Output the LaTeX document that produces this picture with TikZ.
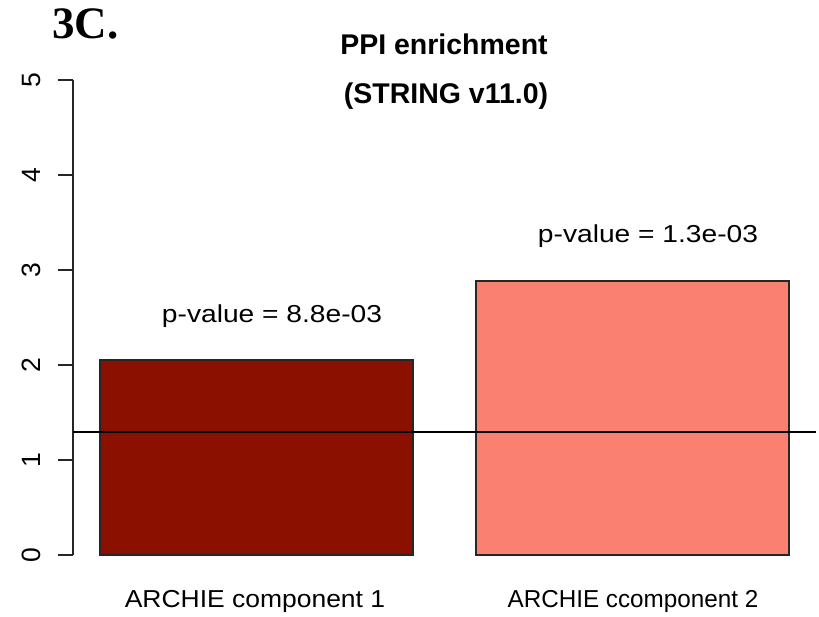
\documentclass[tikz,border=0pt]{standalone}
\usepackage{fontspec}
\setmainfont{Liberation Serif}
\newfontfamily\arialf{Liberation Sans}
\definecolor{bardark}{HTML}{8B1000}
\definecolor{barsalmon}{HTML}{FA8072}
\tikzset{
  txt/.style={inner sep=0pt, anchor=base, font=\arialf\fontsize{24.5}{28}\selectfont},
  ttl/.style={inner sep=0pt, anchor=base, font=\arialf\bfseries\fontsize{28.5}{32}\selectfont},
  ticklab/.style={inner sep=0pt, anchor=base, rotate=90, font=\arialf\fontsize{26.5}{28}\selectfont},
  axisline/.style={line width=1.3pt, draw=black!85},
  barbox/.style={line width=1.3pt, draw=black!85},
}
\begin{document}
\begin{tikzpicture}[x=1pt,y=-1pt]
\useasboundingbox (0,0) rectangle (819,616);
% panel label
\node[inner sep=0pt, anchor=base west, font=\bfseries\fontsize{45}{50}\selectfont] (lab) at (52,38) {3C.};
% title
\node[ttl] (t1) at (444,54) {PPI enrichment};
\node[ttl] (t2) at (446,103) {(STRING v11.0)};
% bars
\draw[barbox, fill=bardark] (100,555) rectangle (413,360);
\draw[barbox, fill=barsalmon] (476,555) rectangle (789,281);
\coordinate (b1top) at (256.5,360);
\coordinate (b2top) at (632.5,281);
% axis
\draw[axisline] (73,555) -- (73,80);
\foreach \v/\yy in {0/555,1/460,2/365,3/270,4/175,5/80}{
  \draw[axisline] (58,\yy) -- (73,\yy);
  \node[ticklab] (tick\v) at (40,\yy) {\v};
}
% threshold line
\coordinate (hl) at (73,432);
\coordinate (hr) at (816,432);
\draw[line width=1.8pt, black] (hl) -- (hr);
% p-value labels
\node[txt] (p1) at (272,322) {\scalebox{1.15}[1]{p-value = 8.8e-03}};
\node[txt] (p2) at (648,242) {\scalebox{1.15}[1]{p-value = 1.3e-03}};
% x labels
\node[txt] (x1) at (255,607) {\scalebox{1.08}[1]{ARCHIE component 1}};
\node[txt] (x2) at (633,607) {\scalebox{0.99}[1]{ARCHIE ccomponent 2}};
\end{tikzpicture}
\end{document}
